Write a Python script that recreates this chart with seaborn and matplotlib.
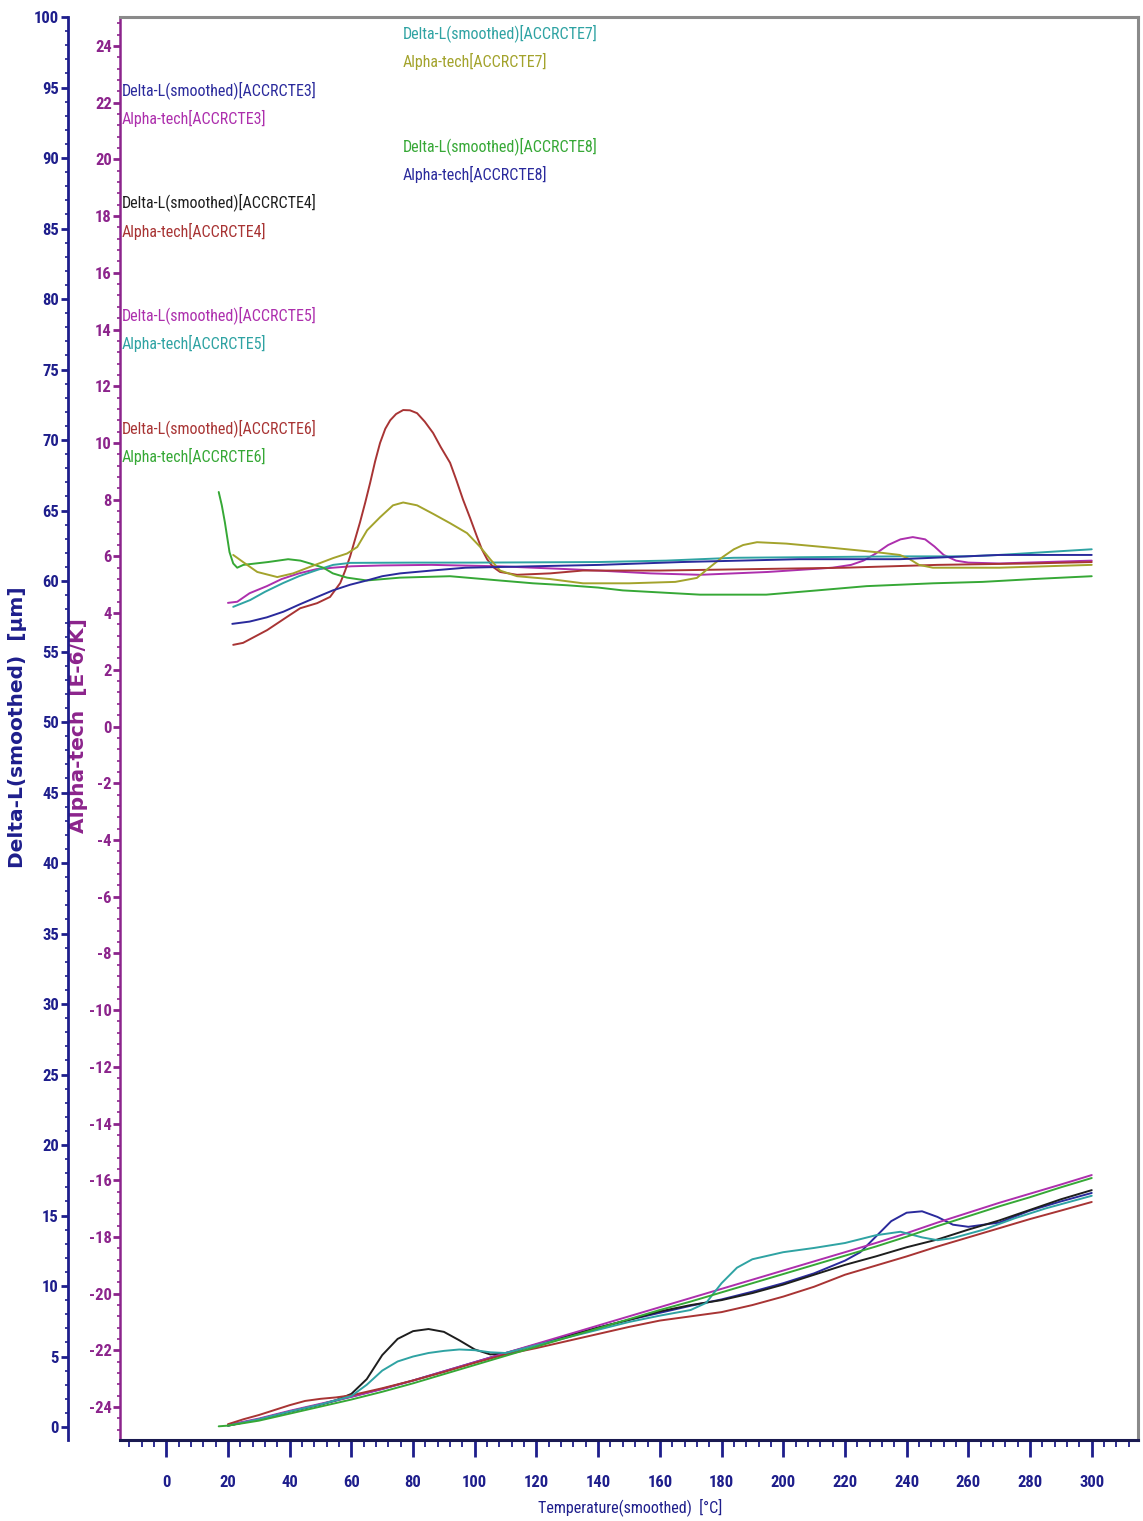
import numpy as np
import pandas as pd
import matplotlib
matplotlib.use("Agg")
import matplotlib.pyplot as plt
from matplotlib import font_manager
from matplotlib.ticker import MultipleLocator
import seaborn as sns

# ---------------- data ----------------
alpha3_T = [20, 23, 27, 32.6, 37.4, 43, 48.7, 54, 60, 70, 86, 108, 119, 130, 140, 157, 173, 195,
            216, 222, 226, 230, 234, 238, 242, 246, 249, 252, 256, 260, 270, 300]
alpha3 = [4.36, 4.4, 4.7, 4.95, 5.2, 5.4, 5.55, 5.6, 5.65, 5.68, 5.7, 5.65, 5.6, 5.55, 5.5, 5.4, 5.35, 5.45,
          5.6, 5.7, 5.85, 6.1, 6.4, 6.6, 6.68, 6.6, 6.35, 6.05, 5.85, 5.78, 5.75, 5.85]

alpha4_T = [21.7, 24.9, 32.7, 39.2, 43.4, 48.9, 53.1, 56.4, 58, 59.6, 61.2, 62.8, 64.5, 66.1, 67.7, 69.3,
            71, 72.6, 74.5, 76.8, 79, 81.3, 83.8, 86.5, 89, 92, 94, 96.2, 98.5, 100.7, 102.3, 104, 106,
            108.2, 113.7, 124.4, 135, 160, 190, 220, 250, 280, 300]
alpha4 = [2.88, 2.95, 3.4, 3.87, 4.17, 4.35, 4.57, 5.06, 5.5, 6.0, 6.6, 7.2, 7.9, 8.6, 9.35, 10.0,
          10.5, 10.8, 11.02, 11.16, 11.15, 11.05, 10.75, 10.35, 9.85, 9.3, 8.7, 8.0, 7.35, 6.7, 6.25, 5.9, 5.62,
          5.45, 5.35, 5.4, 5.5, 5.5, 5.55, 5.6, 5.7, 5.75, 5.8]

alpha5_T = [21.7, 27.2, 32, 37.9, 43, 48.9, 54.1, 59.6, 80, 100, 140, 162, 184, 238, 259, 270, 300]
alpha5 = [4.22, 4.46, 4.75, 5.06, 5.3, 5.52, 5.7, 5.77, 5.78, 5.78, 5.8, 5.85, 5.95, 6.0, 6.0, 6.05, 6.25]

alpha6_T = [17, 18, 19, 20.5, 21.7, 23, 25, 33, 39.5, 43.5, 46.6, 50.9, 54, 58.6, 65, 75.8, 92, 102.7, 108,
            118.9, 130, 140, 148, 173, 194.5, 211, 227, 248.5, 264.6, 281, 300]
alpha6 = [8.27, 7.8, 7.2, 6.15, 5.75, 5.6, 5.7, 5.8, 5.9, 5.85, 5.75, 5.6, 5.4, 5.25, 5.15, 5.25, 5.3, 5.2,
          5.15, 5.05, 4.98, 4.9, 4.8, 4.65, 4.65, 4.8, 4.95, 5.05, 5.1, 5.2, 5.3]

alpha7_T = [21.7, 24.9, 29.5, 36, 41.1, 46.6, 54.1, 58.6, 61.9, 65.1, 69.3, 73.5, 76.8, 81.3, 86.5, 92,
            97.5, 101.7, 105, 108.2, 113.7, 124.4, 135.1, 150, 165, 172, 176, 180.4, 184, 187, 191.5,
            201, 216, 230, 237.8, 241, 244, 248.5, 259, 270, 300]
alpha7 = [6.05, 5.8, 5.45, 5.27, 5.4, 5.63, 5.94, 6.1, 6.33, 6.92, 7.38, 7.8, 7.9, 7.8, 7.5, 7.17,
          6.82, 6.34, 5.9, 5.5, 5.3, 5.2, 5.05, 5.05, 5.1, 5.24, 5.6, 5.98, 6.25, 6.4, 6.5,
          6.45, 6.3, 6.15, 6.05, 5.9, 5.7, 5.6, 5.6, 5.6, 5.7]

alpha8_T = [21.4, 27, 32.6, 38, 43.1, 48.5, 54, 59.6, 65, 70, 75.8, 86, 97, 118.9, 140.6, 167, 205,
            237.7, 270, 300]
alpha8 = [3.62, 3.7, 3.85, 4.05, 4.3, 4.55, 4.8, 5.0, 5.15, 5.3, 5.4, 5.5, 5.6, 5.65, 5.7, 5.8, 5.9,
          5.9, 6.05, 6.05]

dl3_T = [20, 30, 40, 50, 60, 70, 80, 90, 100, 110, 120, 130, 140, 150, 160, 170, 180, 190, 200, 210, 220,
         225, 230, 235, 240, 245, 250, 255, 260, 270, 280, 290, 300]
dl3 = [0.1, 0.55, 1.1, 1.6, 2.15, 2.7, 3.3, 3.95, 4.6, 5.25, 5.85, 6.45, 7.05, 7.6, 8.1, 8.6, 9.05, 9.6,
       10.2, 10.9, 11.8, 12.4, 13.5, 14.6, 15.2, 15.3, 14.9, 14.35, 14.2, 14.5, 15.35, 16.0, 16.6]

dl4_T = [20, 30, 40, 50, 55, 60, 65, 70, 75, 80, 85, 90, 95, 100, 105, 110, 120, 130, 140, 150, 160, 170,
         180, 190, 200, 210, 220, 230, 240, 250, 260, 270, 280, 290, 300]
dl4 = [0.1, 0.55, 1.1, 1.6, 1.9, 2.35, 3.4, 5.1, 6.25, 6.8, 6.95, 6.75, 6.15, 5.5, 5.15, 5.2, 5.85, 6.45,
       7.05, 7.6, 8.2, 8.65, 9.0, 9.5, 10.1, 10.8, 11.5, 12.1, 12.75, 13.3, 14.0, 14.65, 15.4, 16.15, 16.8]

dl5_T = [20, 30, 40, 50, 60, 70, 80, 90, 100, 110, 120, 130, 140, 150, 160, 170, 180, 190, 200, 210, 220,
         230, 240, 250, 260, 270, 280, 290, 300]
dl5 = [0.15, 0.6, 1.15, 1.65, 2.15, 2.7, 3.3, 3.95, 4.6, 5.25, 5.9, 6.55, 7.2, 7.85, 8.5, 9.15, 9.8, 10.45,
       11.1, 11.75, 12.4, 13.05, 13.75, 14.5, 15.2, 15.9, 16.55, 17.2, 17.87]

dl6_T = [20, 25, 30, 35, 40, 45, 50, 55, 60, 70, 80, 90, 100, 110, 120, 130, 140, 150, 160, 170, 180, 190,
         200, 210, 220, 230, 240, 250, 260, 270, 280, 290, 300]
dl6 = [0.2, 0.55, 0.85, 1.2, 1.55, 1.85, 2.0, 2.1, 2.25, 2.75, 3.3, 3.9, 4.55, 5.15, 5.6, 6.1, 6.6, 7.1,
       7.55, 7.85, 8.15, 8.65, 9.25, 9.95, 10.8, 11.45, 12.1, 12.8, 13.45, 14.1, 14.75, 15.35, 15.96]

dl7_T = [20, 30, 40, 50, 60, 65, 70, 75, 80, 85, 90, 95, 100, 105, 110, 120, 130, 140, 150, 160, 170, 175,
         180, 185, 190, 200, 210, 220, 230, 238, 245, 250, 255, 265, 275, 285, 300]
dl7 = [0.1, 0.55, 1.1, 1.6, 2.2, 3.0, 4.0, 4.65, 5.0, 5.25, 5.4, 5.5, 5.45, 5.3, 5.25, 5.8, 6.35, 6.9,
       7.45, 7.9, 8.3, 8.8, 10.2, 11.3, 11.9, 12.4, 12.7, 13.05, 13.6, 13.85, 13.45, 13.25, 13.4, 14.0,
       14.8, 15.5, 16.4]

dl8_T = [17, 20, 30, 40, 50, 60, 70, 80, 90, 100, 110, 120, 130, 140, 150, 160, 170, 180, 190, 200, 210,
         220, 230, 240, 250, 260, 270, 280, 290, 300]
dl8 = [0.05, 0.1, 0.45, 0.95, 1.45, 1.95, 2.5, 3.1, 3.75, 4.4, 5.05, 5.7, 6.35, 7.0, 7.65, 8.3, 8.9, 9.55,
       10.2, 10.85, 11.5, 12.15, 12.8, 13.5, 14.25, 14.95, 15.65, 16.3, 17.0, 17.66]

samples = ["ACCRCTE3", "ACCRCTE4", "ACCRCTE5", "ACCRCTE6", "ACCRCTE7", "ACCRCTE8"]
x_ticks = list(range(0, 301, 20))

# ---------------- styling ----------------
NAVY = "#2a2a9c"
MAGENTA = "#ad2fad"
BLACK = "#1e1e1e"
DARKRED = "#a83434"
TEAL = "#2fa3a3"
GREEN = "#36a836"
OLIVE = "#a3a32c"
AX_BLUE = "#1e1e8c"
AX_PURPLE = "#8c248c"

dl_colors = {"ACCRCTE3": NAVY, "ACCRCTE4": BLACK, "ACCRCTE5": MAGENTA,
             "ACCRCTE6": DARKRED, "ACCRCTE7": TEAL, "ACCRCTE8": GREEN}
al_colors = {"ACCRCTE3": MAGENTA, "ACCRCTE4": DARKRED, "ACCRCTE5": TEAL,
             "ACCRCTE6": GREEN, "ACCRCTE7": OLIVE, "ACCRCTE8": NAVY}

sns.set_theme(style="white")
avail = {f.name for f in font_manager.fontManager.ttflist}
narrow = None
for cand in ["Liberation Sans Narrow", "DejaVu Sans Condensed", "Roboto Condensed", "Open Sans Condensed"]:
    if cand in avail:
        narrow = cand
        break
if narrow is None:
    narrow = "DejaVu Sans"
    k = 0.78
else:
    k = 1.0
plt.rcParams["font.family"] = [narrow, "DejaVu Sans"]
plt.rcParams["axes.unicode_minus"] = False

W_PX, H_PX = 1143, 1521
fig = plt.figure(figsize=(W_PX / 100, H_PX / 100), dpi=100)
fig.patch.set_facecolor("white")

L, R, T_, B_ = 120, 1138, 17, 1440
ax = fig.add_axes([L / W_PX, 1 - B_ / H_PX, (R - L) / W_PX, (B_ - T_) / H_PX])
ax2 = ax.twinx()

def long_df(series):
    parts = [pd.DataFrame({"T": t, "v": v, "s": n}) for n, t, v in series]
    return pd.concat(parts, ignore_index=True)

df_alpha = long_df([("ACCRCTE3", alpha3_T, alpha3), ("ACCRCTE4", alpha4_T, alpha4),
                    ("ACCRCTE5", alpha5_T, alpha5), ("ACCRCTE6", alpha6_T, alpha6),
                    ("ACCRCTE7", alpha7_T, alpha7), ("ACCRCTE8", alpha8_T, alpha8)])
df_dl = long_df([("ACCRCTE3", dl3_T, dl3), ("ACCRCTE4", dl4_T, dl4),
                 ("ACCRCTE5", dl5_T, dl5), ("ACCRCTE6", dl6_T, dl6),
                 ("ACCRCTE7", dl7_T, dl7), ("ACCRCTE8", dl8_T, dl8)])

sns.lineplot(data=df_alpha, x="T", y="v", hue="s", palette=al_colors, estimator=None,
             sort=False, legend=False, linewidth=1.4, ax=ax)
sns.lineplot(data=df_dl, x="T", y="v", hue="s", palette=dl_colors, estimator=None,
             sort=False, legend=False, linewidth=1.4, ax=ax2)
for ln in ax.get_lines() + ax2.get_lines():
    ln.set_solid_joinstyle("round")

# limits
ax.set_xlim(-15, 315)
ax.set_ylim(-25.16, 25.02)
ax2.set_ylim(-0.92, 100)

# x axis
ax.xaxis.set_major_locator(MultipleLocator(20))
ax.xaxis.set_minor_locator(MultipleLocator(4))
ax.set_xticks(x_ticks)
ax.set_xticklabels([str(v) for v in x_ticks])
ax.tick_params(axis="x", which="major", direction="out", length=12, width=2, color=AX_BLUE,
               labelcolor=AX_BLUE, labelsize=12 * k, pad=13, bottom=True)
ax.tick_params(axis="x", which="minor", direction="out", length=5, width=1.3, color=AX_BLUE, bottom=True)

# alpha axis (purple, box edge)
ax.yaxis.set_major_locator(MultipleLocator(2))
ax.yaxis.set_minor_locator(MultipleLocator(0.4))
ax.tick_params(axis="y", which="major", direction="out", length=5, width=2, color=AX_PURPLE,
               labelcolor=AX_PURPLE, labelsize=12 * k, pad=1, left=True)
ax.tick_params(axis="y", which="minor", direction="out", length=2.5, width=1.2, color=AX_PURPLE, left=True)

# delta-L axis (blue, outward)
ax2.yaxis.set_ticks_position("left")
ax2.yaxis.set_label_position("left")
ax2.spines["left"].set_position(("axes", (68 - L) / (R - L)))
ax2.yaxis.set_major_locator(MultipleLocator(5))
ax2.yaxis.set_minor_locator(MultipleLocator(1))
ax2.tick_params(axis="y", which="major", direction="out", length=5, width=2, color=AX_BLUE,
                labelcolor=AX_BLUE, labelsize=12 * k, pad=1.5, left=True, right=False)
ax2.tick_params(axis="y", which="minor", direction="out", length=2.5, width=1.2, color=AX_BLUE,
                left=True, right=False)

for lab in ax.get_xticklabels() + ax.get_yticklabels() + ax2.get_yticklabels():
    lab.set_fontweight("bold")

# spines
for sp in ["top", "right"]:
    ax.spines[sp].set_color("#8a8a8a")
    ax.spines[sp].set_linewidth(2.2)
ax.spines["bottom"].set_color("#1a1a50")
ax.spines["bottom"].set_linewidth(2.2)
ax.spines["left"].set_color(AX_PURPLE)
ax.spines["left"].set_linewidth(1.8)
for sp in ["top", "right", "bottom"]:
    ax2.spines[sp].set_visible(False)
ax2.spines["left"].set_visible(True)
ax2.spines["left"].set_color(AX_BLUE)
ax2.spines["left"].set_linewidth(2)
ax.grid(False)
ax2.grid(False)

# axis labels
ax.set_xlabel("Temperature(smoothed)  [\u00b0C]", color=AX_BLUE, fontsize=11.5 * k)
ax.xaxis.set_label_coords(0.501, -0.047)
ax.xaxis.label.set_va("center")

ax.set_ylabel("Alpha-tech  [E-6/K]", color=AX_PURPLE, fontsize=14.5, fontweight="bold",
              family="DejaVu Sans")
ax.yaxis.set_label_coords((78 - L) / (R - L), 0.502)
ax.yaxis.label.set_va("center")

ax2.set_ylabel("Delta-L(smoothed)  [\u00b5m]", color=AX_BLUE, fontsize=14.5, fontweight="bold",
               family="DejaVu Sans")
ax2.yaxis.set_label_coords((18 - L) / (R - L), 0.501)
ax2.yaxis.label.set_va("center")

# legend-like labels
def ftxt(x, y, s, c):
    fig.text(x / W_PX, 1 - y / H_PX, s, color=c, fontsize=11.5 * k, ha="left", va="center",
             fontweight="normal")

rows_left = [(90, 118, "ACCRCTE3"), (202, 231, "ACCRCTE4"), (315, 343, "ACCRCTE5"), (428, 456, "ACCRCTE6")]
for y1, y2, s in rows_left:
    ftxt(122, y1, f"Delta-L(smoothed)[{s}]", dl_colors[s])
    ftxt(122, y2, f"Alpha-tech[{s}]", al_colors[s])
rows_right = [(33, 61, "ACCRCTE7"), (146, 174, "ACCRCTE8")]
for y1, y2, s in rows_right:
    ftxt(403, y1, f"Delta-L(smoothed)[{s}]", dl_colors[s])
    ftxt(403, y2, f"Alpha-tech[{s}]", al_colors[s])

fig.savefig("out.png", dpi=100, facecolor="white")
